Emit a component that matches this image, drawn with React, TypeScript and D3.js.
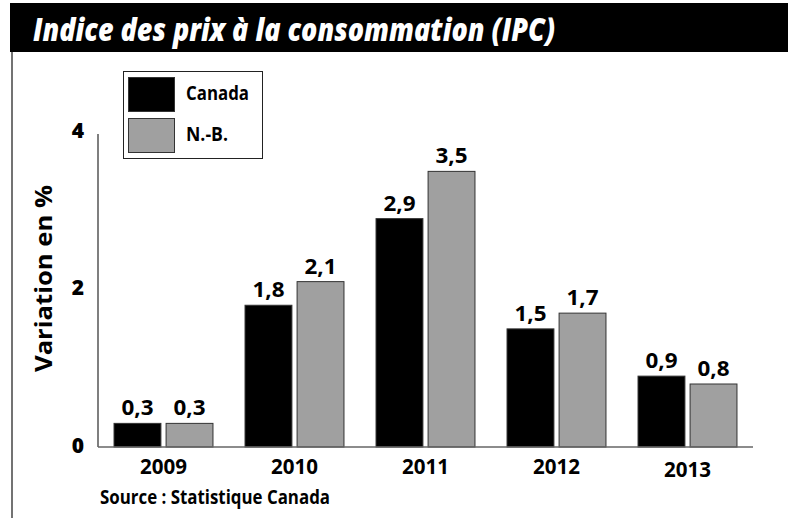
import React from "react";
import * as d3 from "d3";

const years = ["2009", "2010", "2011", "2012", "2013"];
const seriesNames = ["Canada", "N.-B."];
const canadaValues = [0.3, 1.8, 2.9, 1.5, 0.9];
const nbValues = [0.3, 2.1, 3.5, 1.7, 0.8];
const valueLabelsCanada = ["0,3", "1,8", "2,9", "1,5", "0,9"];
const valueLabelsNB = ["0,3", "2,1", "3,5", "1,7", "0,8"];
const yTicks = [0, 2, 4];
const colors = ["#000000", "#a0a0a0"];

const W = 788;
const H = 518;
const FONT = "'Open Sans', 'DejaVu Sans', sans-serif";

export default function App() {
  const x = d3.scaleBand<string>().domain(years).range([98, 753]).paddingInner(0.237).paddingOuter(0.1185);
  const xi = d3.scaleBand<string>().domain(seriesNames).range([0, x.bandwidth()]).paddingInner(0.08);
  const y = d3.scaleLinear().domain([0, 4]).range([447, 132]);
  const series = [
    { name: seriesNames[0], values: canadaValues, labels: valueLabelsCanada, color: colors[0] },
    { name: seriesNames[1], values: nbValues, labels: valueLabelsNB, color: colors[1] },
  ];

  return (
    <svg width={W} height={H} style={{ position: "absolute", left: 0, top: 0, background: "#fff" }}>
      <rect x={0} y={0} width={W} height={H} fill="#fff" />
      {/* header band */}
      <rect x={10} y={3} width={W - 10} height={49} fill="#000" />
      <text x={33} y={41} fill="#fff" fontFamily={FONT} fontWeight={800} fontStyle="italic" fontSize={32}
        textLength={522} lengthAdjust="spacingAndGlyphs">
        Indice des prix à la consommation (IPC)
      </text>
      <line x1={12} x2={12} y1={52} y2={H} stroke="#444" strokeWidth={1.5} />

      {/* legend */}
      <rect x={123.5} y={71.5} width={139} height={87} fill="#fff" stroke="#222" strokeWidth={1} />
      {series.map((s, i) => (
        <g key={s.name}>
          <rect x={128.5} y={77.5 + i * 41} width={46} height={34} fill={s.color} stroke="#333" strokeWidth={1} />
          <text x={186} y={95 + i * 41} dominantBaseline="middle" fontFamily={FONT} fontWeight={700} fontSize={19}
            fill="#000" textLength={s.name === "Canada" ? 63 : 42} lengthAdjust="spacingAndGlyphs">
            {s.name}
          </text>
        </g>
      ))}

      {/* y axis */}
      <line x1={98} x2={98} y1={134} y2={y(0)} stroke="#555" strokeWidth={1.5} />
      {yTicks.map((t) => (
        <text key={t} x={78} y={y(t)} dominantBaseline="middle" textAnchor="middle" fontFamily={FONT}
          fontWeight={800} fontSize={21} fill="#000">
          {t}
        </text>
      ))}
      <text transform={`translate(46,${(185 + 372) / 2}) rotate(-90)`} textAnchor="middle" dominantBaseline="middle"
        fontFamily={FONT} fontWeight={700} fontSize={23} fill="#000" textLength={187} lengthAdjust="spacingAndGlyphs">
        Variation en %
      </text>

      {/* bars */}
      {years.map((yr, j) => (
        <g key={yr} transform={`translate(${x(yr)},0)`}>
          {series.map((s) => (
            <g key={s.name}>
              <rect x={xi(s.name)! + 0.5} y={y(s.values[j])} width={xi.bandwidth() - 1} height={y(0) - y(s.values[j])}
                fill={s.color} stroke="#333" strokeWidth={1} />
              <text x={xi(s.name)! + xi.bandwidth() / 2} y={y(s.values[j]) - 8} textAnchor="middle" fontFamily={FONT}
                fontWeight={700} fontSize={21} fill="#000" textLength={32} lengthAdjust="spacingAndGlyphs">
                {s.labels[j]}
              </text>
            </g>
          ))}
        </g>
      ))}
      <line x1={98} x2={753} y1={y(0)} y2={y(0)} stroke="#666" strokeWidth={1.5} />

      {/* x labels */}
      {years.map((yr, j) => (
        <text key={yr} x={x(yr)! + x.bandwidth() / 2} y={j === 4 ? 477 : 474} textAnchor="middle" fontFamily={FONT}
          fontWeight={700} fontSize={22} fill="#000" textLength={47} lengthAdjust="spacingAndGlyphs">
          {yr}
        </text>
      ))}

      <text x={100} y={504} fontFamily={FONT} fontWeight={700} fontSize={19} fill="#000" textLength={230}
        lengthAdjust="spacingAndGlyphs">
        Source : Statistique Canada
      </text>
    </svg>
  );
}
